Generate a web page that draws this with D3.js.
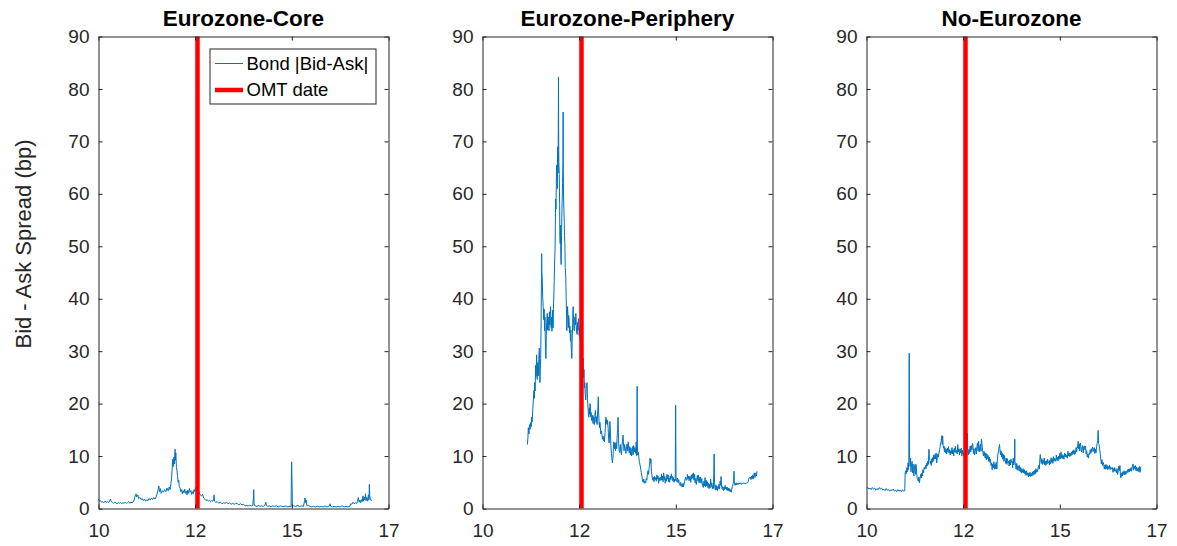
<!DOCTYPE html>
<html>
<head>
<meta charset="utf-8">
<script src="https://cdn.jsdelivr.net/npm/d3@7"></script>
<style>
    body { margin: 0; background: #fff; }
    svg text { font-family: "Liberation Sans", Arial, Helvetica, sans-serif; }
</style>
</head>
<body>
<svg id="chart" width="1177" height="546"></svg>
<script>
// Panel titles and x axis (trading-day index, labelled by year)
const panelTitles = ["Eurozone-Core", "Eurozone-Periphery", "No-Eurozone"];
const xTickValues = [0, 500, 1000, 1500];
const xTickLabels = ["10", "12", "15", "17"];
const yTickValues = [0, 10, 20, 30, 40, 50, 60, 70, 80, 90];
const omtDay = 512;
const legendLabels = ["Bond |Bid-Ask|", "OMT date"];

// [day, bid-ask spread in bp]
const coreSpread = [
    [0,1.8],[5,1.4],[10,1.5],[16,1.2],[22,1.3],[28,1.1],[34,1.4],[40,1.2],[46,1.3],[52,1.1],[58,1.5],[62,1.8],[66,1.3],[72,1.2],
    [78,1.0],[84,1.2],[90,1.1],[96,0.9],[102,1.1],[108,1.0],[114,1.2],[120,0.9],[126,1.1],[132,1.0],[138,1.2],[144,1.0],[150,1.1],
    [156,1.3],[162,1.0],[168,1.2],[174,1.1],[180,1.3],[184,1.6],[190,2.4],[194,2.8],[198,2.2],[203,2.6],[208,1.9],[214,2.1],[220,1.7],
    [226,1.9],[232,1.5],[238,1.8],[244,1.4],[250,1.7],[256,1.5],[262,1.9],[268,1.6],[274,2.0],[280,1.7],[286,2.1],[292,1.8],[298,2.2],
    [304,2.9],[308,3.6],[312,4.3],[316,3.2],[320,3.8],[324,2.9],[330,3.4],[336,3.1],[342,3.6],[348,3.2],[354,3.9],[360,3.4],[366,4.1],
    [370,3.6],[374,4.6],[378,5.8],[381,7.5],[384,9.4],[387,8.0],[390,9.8],[393,8.5],[396,11.3],[398,9.2],[400,10.6],[403,7.8],[406,7.2],
    [409,6.1],[412,5.0],[415,5.4],[418,4.2],[422,3.9],[426,3.2],[430,3.6],[434,2.8],[438,3.4],[442,3.0],[446,3.7],[450,2.9],[454,3.3],
    [458,2.6],[462,3.5],[466,2.9],[470,3.8],[474,3.1],[478,3.4],[482,2.7],[486,3.2],[490,2.8],[494,3.6],[498,3.2],[502,4.0],[506,3.4],
    [510,3.0],[516,2.9],[520,3.1],[526,2.6],[532,2.4],[538,2.7],[544,2.0],[550,1.8],[556,1.5],[562,1.7],[568,1.4],[574,1.6],[580,1.3],
    [586,1.5],[592,1.4],[596,2.0],[598,2.6],[600,1.4],[606,1.2],[614,1.3],[622,1.0],[630,1.2],[638,0.9],[646,1.1],[654,1.0],[662,1.2],
    [670,0.9],[678,1.1],[686,0.8],[694,1.0],[702,0.8],[710,1.0],[718,0.9],[726,0.7],[734,0.9],[742,0.7],[750,0.8],[758,0.5],[766,0.6],
    [774,0.5],[782,0.6],[790,0.5],[798,0.6],[801,2.0],[803,3.6],[805,0.6],[812,0.5],[820,0.4],[828,0.6],[836,0.4],[844,0.5],[852,0.4],
    [860,0.6],[866,1.2],[868,0.6],[876,0.4],[884,0.5],[892,0.3],[900,0.5],[910,0.4],[920,0.5],[930,0.3],[940,0.5],[950,0.4],[960,0.4],
    [970,0.5],[980,0.3],[990,0.4],[996,0.3],[999,8.9],[1001,5.0],[1003,0.4],[1010,0.5],[1020,0.4],[1030,0.6],[1040,0.4],[1050,0.5],
    [1060,0.4],[1066,1.5],[1068,2.0],[1071,1.1],[1074,1.6],[1078,0.5],[1086,0.6],[1094,0.4],[1102,0.3],[1112,0.4],[1122,0.3],[1132,0.4],
    [1142,0.3],[1152,0.4],[1162,0.3],[1172,0.5],[1182,0.3],[1192,0.4],[1198,0.9],[1201,0.4],[1210,0.3],[1220,0.4],[1230,0.3],[1240,0.4],
    [1250,0.3],[1260,0.5],[1270,0.3],[1280,0.4],[1290,0.3],[1300,0.4],[1304,0.9],[1310,0.8],[1316,1.2],[1322,0.9],[1328,1.1],[1334,0.9],
    [1340,1.4],[1344,2.1],[1348,1.2],[1352,1.6],[1356,1.1],[1360,1.7],[1364,1.3],[1368,2.4],[1371,1.4],[1374,2.2],[1378,1.6],[1381,2.8],
    [1384,1.5],[1388,2.1],[1392,1.4],[1396,2.6],[1399,1.6],[1401,4.6],[1403,2.4],[1406,1.9],[1410,1.5],[1414,1.6]
];

const peripherySpread = [
    [232,12.2],[235,13.5],[237,15.4],[240,14.2],[243,16.0],[246,15.1],[249,16.4],[252,15.6],[254,17.4],[257,16.5],[260,18.8],[263,20.7],
    [266,22.5],[268,21.0],[270,24.0],[272,22.4],[275,27.3],[277,25.2],[280,29.3],[282,26.0],[283,24.6],[286,27.8],[289,25.3],[291,28.4],
    [294,30.6],[296,27.0],[297,24.0],[299,26.5],[301,28.6],[303,35.0],[305,44.0],[306,48.6],[307,45.2],[309,43.8],[311,40.5],[314,38.5],
    [317,36.0],[319,38.0],[321,33.9],[323,36.5],[325,32.0],[327,30.0],[328,28.6],[330,33.0],[332,35.5],[335,37.2],[337,34.0],[340,36.5],
    [342,35.0],[344,33.9],[346,37.5],[348,35.0],[350,36.8],[352,38.5],[355,34.5],[357,36.5],[359,33.8],[361,35.2],[363,37.8],[365,34.4],
    [367,38.6],[369,40.5],[371,43.5],[373,47.0],[375,49.1],[377,54.0],[378,59.0],[380,57.1],[382,62.0],[383,65.5],[385,65.0],[387,61.0],
    [388,66.8],[390,69.0],[391,64.0],[392,72.0],[393,82.3],[394,70.0],[395,66.0],[397,63.7],[399,58.0],[400,52.0],[402,50.5],[404,54.0],
    [405,48.0],[407,46.5],[409,52.0],[410,55.5],[412,58.4],[414,62.0],[416,66.0],[417,75.6],[418,64.0],[419,60.0],[421,57.1],[423,54.5],
    [424,52.0],[426,50.5],[428,46.0],[430,44.5],[431,43.8],[433,40.0],[435,36.5],[436,33.9],[438,36.0],[440,38.5],[442,37.0],[444,34.5],
    [446,36.8],[448,35.9],[450,33.5],[452,34.8],[455,31.9],[457,34.0],[459,30.5],[461,29.5],[462,28.6],[464,32.0],[466,35.0],[468,38.0],
    [469,38.5],[471,36.0],[473,34.0],[476,33.9],[478,36.5],[480,35.0],[483,37.2],[485,35.0],[487,33.5],[490,33.2],[492,35.5],[494,34.0],
    [496,36.2],[498,35.9],[500,33.0],[502,34.5],[504,32.4],[507,31.9],[509,34.0],[511,33.0],[514,30.0],[516,28.0],[518,26.5],[521,28.6],
    [523,25.0],[525,26.5],[527,23.0],[529,24.0],[531,22.0],[534,20.7],[536,22.5],[538,23.5],[541,24.0],[543,21.0],[546,19.0],[548,18.0],
    [550,17.4],[552,19.2],[554,18.0],[556,20.0],[558,19.5],[560,17.5],[562,18.3],[564,16.8],[567,16.7],[570,17.8],[572,16.2],[575,17.5],
    [578,16.0],[581,17.6],[584,18.7],[586,17.0],[588,16.4],[590,17.5],[593,16.0],[595,18.0],[597,19.5],[599,21.3],[601,18.0],[603,16.5],
    [605,15.4],[607,16.5],[610,15.4],[612,14.2],[615,14.8],[618,14.0],[621,13.2],[624,13.8],[627,12.9],[629,13.5],[631,12.7],[634,14.5],
    [636,15.8],[638,17.4],[640,16.2],[642,17.0],[645,16.0],[647,16.8],[650,15.2],[652,13.4],[655,12.5],[657,14.0],[659,16.6],[661,15.0],
    [664,12.0],[667,10.5],[669,9.5],[672,8.7],[675,9.8],[677,11.5],[679,12.7],[682,11.4],[685,12.5],[688,11.0],[691,12.6],[694,11.4],
    [696,13.5],[699,15.0],[701,17.4],[703,14.5],[704,12.4],[707,11.0],[710,10.7],[713,12.2],[716,11.0],[719,10.2],[721,11.8],[724,12.8],
    [727,14.0],[729,12.5],[732,11.0],[735,12.2],[739,11.4],[742,10.5],[745,11.8],[748,12.3],[751,11.0],[754,12.7],[756,11.5],[759,10.6],
    [762,11.8],[765,10.2],[768,11.5],[771,10.0],[773,10.7],[776,11.8],[779,10.2],[782,12.0],[785,10.8],[788,11.6],[790,11.4],[793,10.5],
    [795,12.7],[797,10.0],[799,13.0],[800,23.3],[801,12.0],[803,10.2],[806,10.7],[809,9.6],[812,8.8],[816,8.1],[819,7.4],[822,6.8],
    [825,6.1],[828,5.2],[831,5.0],[834,5.6],[837,4.8],[840,5.2],[844,4.9],[847,5.7],[850,5.4],[853,6.5],[856,7.2],[859,6.5],[862,7.8],
    [864,8.1],[867,9.6],[869,8.6],[871,9.4],[874,7.0],[877,6.2],[879,5.8],[881,5.4],[884,6.0],[887,5.1],[890,6.1],[893,5.5],[896,5.9],
    [899,5.2],[902,6.4],[905,5.6],[908,6.2],[911,4.8],[914,5.8],[917,5.3],[920,6.0],[923,5.4],[926,6.6],[928,5.4],[931,6.2],[934,5.1],
    [937,6.8],[940,5.5],[943,6.1],[945,4.8],[948,5.7],[951,5.2],[954,6.5],[957,5.6],[960,6.4],[962,5.1],[965,5.8],[968,5.0],[971,6.2],
    [974,5.5],[977,6.6],[979,5.8],[982,6.1],[985,5.2],[988,5.9],[991,5.0],[994,5.6],[997,5.3],[999,19.7],[1001,6.0],[1003,5.4],[1006,5.1],
    [1009,5.8],[1012,4.9],[1015,5.5],[1018,4.6],[1022,4.4],[1025,5.0],[1028,4.2],[1031,4.6],[1034,4.1],[1037,4.8],[1039,4.1],[1042,4.5],
    [1045,5.1],[1048,5.6],[1051,6.0],[1054,5.4],[1057,5.4],[1060,6.5],[1063,5.6],[1066,6.2],[1069,5.3],[1072,6.1],[1074,6.1],[1077,5.0],
    [1080,6.4],[1083,5.6],[1086,6.6],[1089,5.8],[1091,6.8],[1094,5.4],[1097,6.5],[1100,4.9],[1103,5.7],[1106,4.6],[1108,5.2],[1111,6.3],
    [1114,5.3],[1117,6.4],[1120,4.9],[1122,5.9],[1125,5.0],[1128,6.0],[1131,4.8],[1134,5.7],[1137,4.7],[1140,4.2],[1142,4.0],[1145,5.2],
    [1148,4.3],[1151,5.9],[1154,4.1],[1157,5.4],[1160,4.3],[1163,5.1],[1166,4.0],[1169,4.8],[1172,3.8],[1175,4.6],[1177,3.9],[1180,5.6],
    [1183,4.2],[1186,4.9],[1189,3.8],[1192,4.4],[1194,3.8],[1196,6.0],[1198,10.4],[1200,5.0],[1202,4.1],[1204,3.5],[1207,4.5],[1210,3.6],
    [1213,4.3],[1216,3.4],[1218,4.0],[1220,3.8],[1223,4.6],[1226,3.7],[1229,5.2],[1232,4.4],[1234,6.1],[1236,4.5],[1239,3.8],[1242,4.2],
    [1244,3.5],[1246,3.4],[1249,4.1],[1252,3.6],[1255,4.4],[1258,3.7],[1261,4.0],[1263,3.5],[1266,4.1],[1269,3.4],[1272,3.9],[1275,3.3],
    [1278,3.8],[1281,3.2],[1284,3.6],[1287,3.1],[1289,3.5],[1292,4.2],[1295,4.6],[1297,4.8],[1299,5.2],[1301,7.1],[1303,4.6],[1306,4.4],
    [1309,4.8],[1312,4.5],[1315,4.9],[1318,4.6],[1321,4.8],[1323,4.6],[1327,4.9],[1331,4.7],[1335,4.9],[1339,4.6],[1343,4.8],[1347,4.7],
    [1351,4.9],[1355,4.8],[1359,4.7],[1363,4.9],[1367,4.8],[1371,4.9],[1374,5.1],[1377,5.6],[1380,5.9],[1383,5.8],[1386,6.0],[1389,5.5],
    [1392,6.2],[1395,5.7],[1398,6.4],[1400,5.6],[1403,6.3],[1406,6.8],[1409,5.9],[1412,6.5],[1414,6.8],[1417,6.2],[1420,7.1]
];

const nonEuroSpread = [
    [0,3.9],[6,4.0],[12,3.7],[18,3.9],[24,3.6],[30,4.0],[36,3.7],[42,3.9],[48,3.5],[54,3.8],[60,3.6],[66,4.0],[72,3.7],[78,3.9],[84,3.5],
    [90,3.7],[96,3.4],[102,3.8],[108,3.5],[114,3.6],[120,3.3],[126,3.6],[132,3.4],[138,3.7],[144,3.3],[150,3.5],[156,3.2],[162,3.6],
    [168,3.3],[174,3.5],[180,3.2],[186,3.6],[192,3.3],[198,3.4],[200,6.8],[203,7.2],[206,6.6],[209,7.8],[212,7.0],[215,8.7],[217,7.4],
    [219,9.2],[221,29.6],[223,9.4],[226,8.0],[228,9.6],[230,7.0],[233,8.4],[236,9.0],[238,6.8],[241,8.5],[243,7.2],[245,6.2],[248,7.6],
    [251,8.4],[254,6.5],[256,8.4],[259,7.0],[262,5.8],[265,5.5],[268,5.2],[271,6.0],[274,4.9],[277,5.8],[280,6.5],[283,5.8],[286,6.8],
    [289,6.2],[292,7.4],[295,6.8],[298,7.8],[302,7.5],[305,8.2],[308,7.6],[311,8.6],[314,8.1],[317,9.0],[320,8.4],[323,11.3],[325,9.8],
    [328,9.2],[330,8.6],[332,9.0],[335,8.2],[338,9.5],[340,8.8],[342,9.7],[345,9.0],[348,10.2],[351,9.4],[354,10.3],[357,9.5],[360,10.6],
    [363,8.7],[366,9.6],[369,10.4],[372,9.8],[375,10.6],[378,11.2],[381,11.8],[383,12.5],[385,12.5],[388,13.5],[390,13.9],[392,12.2],
    [394,13.8],[396,12.0],[399,11.5],[401,11.9],[403,10.8],[406,11.6],[409,10.6],[412,11.3],[415,10.4],[418,11.5],[421,10.8],[424,11.8],
    [427,10.6],[430,11.2],[433,10.2],[436,11.0],[439,10.5],[442,11.6],[445,10.4],[448,11.2],[451,10.0],[454,11.5],[457,10.8],[460,11.9],
    [463,10.6],[466,11.1],[469,10.4],[472,12.2],[475,10.8],[478,11.4],[481,10.2],[484,11.3],[487,10.6],[490,11.5],[493,10.0],[496,11.1],
    [499,10.4],[502,10.6],[505,9.9],[508,11.2],[511,10.2],[514,11.0],[517,10.0],[520,11.6],[522,14.4],[524,11.0],[527,10.2],[530,11.3],
    [533,10.5],[536,11.9],[539,10.8],[542,12.0],[545,11.2],[548,12.4],[550,12.2],[553,10.5],[556,11.4],[559,10.2],[562,10.9],[565,11.6],
    [568,10.4],[571,11.8],[574,12.5],[577,11.0],[580,12.8],[583,10.8],[586,11.7],[589,12.2],[592,10.9],[594,13.2],[596,12.8],[599,11.6],
    [602,10.7],[605,10.0],[608,10.9],[611,10.2],[614,9.6],[617,10.6],[620,9.3],[623,10.4],[626,9.5],[629,10.1],[632,9.0],[635,9.8],
    [638,8.8],[641,9.4],[644,8.2],[647,8.7],[650,7.4],[653,8.5],[656,7.8],[659,8.9],[662,7.5],[665,8.4],[668,7.6],[671,8.8],[674,7.5],
    [677,9.2],[680,10.4],[683,11.0],[686,11.8],[688,12.2],[690,11.4],[693,10.2],[696,11.0],[699,9.8],[702,10.6],[705,9.4],[708,10.3],
    [711,9.0],[714,10.1],[717,9.2],[720,8.6],[723,9.6],[726,8.4],[729,9.5],[732,8.7],[735,9.0],[738,8.1],[741,9.2],[744,8.3],[747,9.4],
    [750,8.8],[753,9.0],[756,7.8],[759,9.6],[762,8.3],[764,9.0],[766,10.0],[767,13.2],[768,9.0],[771,8.2],[774,7.5],[777,8.6],[780,7.3],
    [783,8.2],[786,8.1],[789,7.2],[792,8.2],[795,7.0],[798,7.8],[801,6.8],[804,7.5],[807,6.9],[810,7.6],[813,6.8],[816,7.4],[819,6.6],
    [822,7.1],[825,6.3],[828,7.2],[831,6.4],[834,6.8],[837,6.0],[840,6.8],[843,6.2],[846,6.9],[849,6.1],[852,6.7],[855,6.2],[858,7.0],
    [861,6.3],[864,7.1],[867,6.5],[870,7.3],[873,6.6],[876,7.6],[879,6.9],[882,7.4],[885,7.0],[888,7.8],[891,8.2],[894,7.5],[897,9.6],
    [899,10.3],[901,9.4],[904,8.6],[907,9.5],[910,8.4],[913,9.2],[916,8.6],[919,9.6],[922,8.3],[925,9.0],[928,8.2],[931,9.1],[934,8.5],
    [937,9.4],[940,8.7],[943,9.0],[946,8.3],[949,9.2],[952,8.5],[955,9.7],[958,8.8],[961,9.5],[964,8.6],[967,9.9],[970,9.0],[973,9.6],
    [976,9.4],[979,9.0],[982,10.2],[985,9.2],[988,9.8],[991,9.1],[994,10.0],[997,9.4],[1000,10.5],[1003,9.5],[1006,10.8],[1009,9.6],
    [1012,10.3],[1015,9.5],[1018,10.1],[1021,9.4],[1024,10.6],[1027,9.8],[1030,10.4],[1033,9.8],[1036,10.2],[1039,9.6],[1042,10.9],
    [1045,10.0],[1048,10.6],[1051,9.9],[1054,10.5],[1057,10.0],[1060,10.8],[1063,10.2],[1066,11.0],[1069,10.4],[1072,11.2],[1075,10.3],
    [1078,11.0],[1081,10.5],[1084,11.6],[1087,10.8],[1090,11.8],[1092,11.6],[1095,12.8],[1097,11.4],[1100,12.3],[1103,11.0],[1106,12.5],
    [1109,11.8],[1112,10.8],[1115,11.5],[1118,12.0],[1121,10.6],[1124,11.8],[1127,11.9],[1130,11.2],[1133,11.9],[1136,10.4],[1139,11.0],
    [1142,9.8],[1145,10.4],[1148,9.6],[1151,10.5],[1154,10.3],[1157,11.2],[1160,10.5],[1163,11.4],[1166,10.8],[1169,11.7],[1172,11.4],
    [1175,10.9],[1178,11.6],[1181,10.5],[1184,11.3],[1187,10.6],[1190,11.8],[1193,12.4],[1196,13.0],[1198,14.9],[1200,12.4],[1203,12.2],
    [1206,11.2],[1209,10.5],[1212,9.4],[1215,8.5],[1218,9.3],[1221,8.2],[1224,8.8],[1227,8.4],[1230,7.5],[1233,8.3],[1236,7.5],[1239,8.4],
    [1242,7.6],[1245,8.2],[1248,7.4],[1251,8.0],[1254,7.6],[1257,8.3],[1260,7.4],[1263,7.9],[1266,7.8],[1269,7.5],[1272,7.8],[1275,6.9],
    [1278,7.6],[1281,7.1],[1284,7.8],[1287,7.1],[1290,7.4],[1293,6.8],[1296,7.6],[1299,6.5],[1302,7.2],[1305,8.1],[1308,7.2],[1311,8.2],
    [1314,5.9],[1317,5.9],[1320,6.8],[1323,6.2],[1326,7.0],[1329,6.5],[1332,7.2],[1335,6.4],[1338,7.1],[1341,6.5],[1344,7.1],[1347,6.8],
    [1350,7.4],[1353,6.9],[1356,7.5],[1359,7.0],[1362,7.6],[1365,7.2],[1368,7.8],[1371,7.1],[1374,7.7],[1377,8.4],[1379,8.5],[1382,7.3],
    [1385,8.1],[1388,7.6],[1391,8.2],[1394,7.2],[1397,7.9],[1400,7.1],[1403,7.6],[1406,7.8],[1409,7.0],[1412,8.0],[1415,6.9],[1418,7.8],
    [1420,8.0]
];

const panelSeries = [coreSpread, peripherySpread, nonEuroSpread];

// Layout of the three subplots
const panelLefts = [98.5, 482.5, 866.5];
const panelTop = 36.5;
const width = 290, height = 472;
const axisColor = "#262626";

const svg = d3.select("#chart");

// Shared y label
svg.append("text")
    .attr("transform", "translate(23,244) rotate(-90)")
    .attr("text-anchor", "middle")
    .attr("dy", "0.35em")
    .style("font-size", "22px")
    .attr("fill", axisColor)
    .text("Bid - Ask Spread (bp)");

panelSeries.forEach((series, i) => drawPanel(i, series));

function drawPanel(i, series) {
    const g = svg.append("g")
        .attr("transform", `translate(${panelLefts[i]},${panelTop})`);

    const x = d3.scaleLinear().domain([0, 1500]).range([0, width]);
    const y = d3.scaleLinear().domain([0, 90]).range([height, 0]);

    // Bid-ask series
    g.append("path")
        .datum(series)
        .attr("fill", "none")
        .attr("stroke", "#0072BD")
        .attr("stroke-width", 1)
        .attr("stroke-linejoin", "round")
        .attr("d", d3.line()
            .x(d => x(d[0]))
            .y(d => y(d[1]))
        );

    // OMT announcement
    g.append("line")
        .attr("x1", x(omtDay))
        .attr("x2", x(omtDay))
        .attr("y1", y(90))
        .attr("y2", y(0))
        .attr("stroke", "#ff0000")
        .attr("stroke-width", 4.5);

    // Axes with inward ticks on all four sides (boxed)
    const bottom = g.append("g")
        .attr("transform", `translate(0,${height})`)
        .call(d3.axisBottom(x)
            .tickValues(xTickValues)
            .tickFormat((d, k) => xTickLabels[k])
            .tickSizeInner(-4)
            .tickSizeOuter(0)
            .tickPadding(15.5));

    const top = g.append("g")
        .call(d3.axisTop(x)
            .tickValues(xTickValues)
            .tickFormat("")
            .tickSizeInner(-4)
            .tickSizeOuter(0));

    const left = g.append("g")
        .call(d3.axisLeft(y)
            .tickValues(yTickValues)
            .tickFormat(d3.format("d"))
            .tickSizeInner(-4)
            .tickSizeOuter(0)
            .tickPadding(9));

    const right = g.append("g")
        .attr("transform", `translate(${width},0)`)
        .call(d3.axisRight(y)
            .tickValues(yTickValues)
            .tickFormat("")
            .tickSizeInner(-4)
            .tickSizeOuter(0));

    [bottom, top, left, right].forEach(a => {
        a.select(".domain").attr("stroke", axisColor);
        a.selectAll(".tick line").attr("stroke", axisColor);
        a.selectAll(".tick text")
            .attr("fill", axisColor)
            .style("font-size", "19px")
            .style("font-family", "'Liberation Sans', Arial, sans-serif");
    });

    // Title
    g.append("text")
        .attr("x", width / 2)
        .attr("y", -11)
        .attr("text-anchor", "middle")
        .style("font-size", "22.5px")
        .style("font-weight", "bold")
        .attr("fill", "#000")
        .text(panelTitles[i]);

    if (i === 0) drawLegend(g);
}

function drawLegend(g) {
    const boxW = 166, boxH = 55;
    const lx = width - 12.5 - boxW, ly = 12.5;
    const legend = g.append("g").attr("transform", `translate(${lx},${ly})`);

    legend.append("rect")
        .attr("width", boxW)
        .attr("height", boxH)
        .attr("fill", "#fff")
        .attr("stroke", axisColor)
        .attr("stroke-width", 1);

    const rows = [
        {color: "#0072BD", w: 1},
        {color: "#ff0000", w: 4.5}
    ];
    rows.forEach((r, k) => {
        const cy = 14.5 + k * 26.5;
        legend.append("line")
            .attr("x1", 5).attr("x2", 33)
            .attr("y1", cy).attr("y2", cy)
            .attr("stroke", r.color)
            .attr("stroke-width", r.w);
        legend.append("text")
            .attr("x", 36.5)
            .attr("y", cy)
            .attr("dy", "0.35em")
            .style("font-size", "18.5px")
            .attr("fill", "#000")
            .text(legendLabels[k]);
    });
}
</script>
</body>
</html>
